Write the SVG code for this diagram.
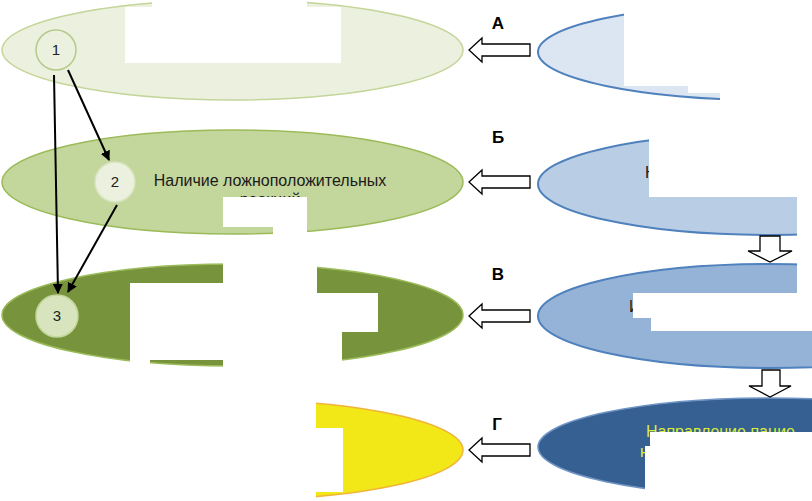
<svg xmlns="http://www.w3.org/2000/svg" width="812" height="501" viewBox="0 0 812 501">
<defs>
<style>
.lbl{font-family:"Liberation Sans",Arial,sans-serif;font-weight:bold;font-size:17px;fill:#000}
.num{font-family:"Liberation Sans",Arial,sans-serif;font-size:15px;fill:#222;text-anchor:middle}
.txt{font-family:"Liberation Sans",Arial,sans-serif;font-size:16px;fill:#1a1a1a}
.ytxt{font-family:"Liberation Sans",Arial,sans-serif;font-size:16px;fill:#dcee3a}
.blk{fill:#fff;stroke:#000;stroke-width:1.3}
.mask{fill:#fff}
.con{stroke:#000;stroke-width:2;fill:none;marker-end:url(#ah)}
</style>
<marker id="ah" viewBox="0 0 10 10" refX="9" refY="5" markerWidth="5" markerHeight="5" orient="auto">
<path d="M0,0 L10,5 L0,10 z" fill="#000"/>
</marker>
</defs>
<rect width="812" height="501" fill="#fff"/>

<!-- left ellipses -->
<g id="left1"><ellipse cx="232.5" cy="50" rx="230.5" ry="50" fill="#ebf1de" stroke="#c4d59a" stroke-width="1.5"/></g>
<g id="left2"><ellipse cx="232.5" cy="182" rx="230.5" ry="52" fill="#c3d69b" stroke="#9bbb59" stroke-width="1.5"/>
<text class="txt" x="270" y="186" text-anchor="middle">Наличие ложноположительных</text>
<text class="txt" x="270" y="205" text-anchor="middle">реакций</text></g>
<g id="left3"><ellipse cx="232.5" cy="315" rx="230.5" ry="51" fill="#77933c" stroke="#9bbb59" stroke-width="1.5"/></g>
<g id="left4"><ellipse cx="232.5" cy="450" rx="230.5" ry="50" fill="#f2e717" stroke="#f0b43a" stroke-width="1.5"/></g>

<!-- right ellipses -->
<g id="rightA"><ellipse cx="770" cy="52" rx="232" ry="48" fill="#dce6f2" stroke="#4f81bd" stroke-width="2"/></g>
<g id="rightB"><ellipse cx="770" cy="184" rx="232" ry="51" fill="#b9cde5" stroke="#4f81bd" stroke-width="2"/>
<text class="txt" x="645" y="178">Н</text></g>
<g id="rightV"><ellipse cx="770" cy="316" rx="232" ry="52" fill="#95b3d7" stroke="#4f81bd" stroke-width="2"/>
<text class="txt" x="629" y="312">И</text></g>
<g id="rightG"><ellipse cx="770" cy="447" rx="232" ry="49" fill="#376092" stroke="#6f95c6" stroke-width="1.5"/>
<text class="ytxt" x="646" y="437">Направление пацие</text>
<text class="ytxt" x="640" y="457">на</text></g>

<!-- redaction masks -->
<g id="masks">
<rect class="mask" x="125" y="7" width="216" height="56"/>
<rect class="mask" x="152" y="0" width="155" height="8"/>
<rect class="mask" x="223" y="197" width="84" height="30"/>
<rect class="mask" x="273" y="197" width="34" height="45"/>
<rect class="mask" x="223" y="240" width="84" height="85"/>
<rect class="mask" x="130" y="283" width="93" height="77"/>
<rect class="mask" x="130" y="355" width="20" height="14"/>
<rect class="mask" x="223" y="250" width="94" height="120"/>
<rect class="mask" x="307" y="293" width="71" height="39"/>
<rect class="mask" x="317" y="330" width="25" height="40"/>
<rect class="mask" x="0" y="395" width="316" height="106"/>
<rect class="mask" x="316" y="428" width="27" height="64"/>
<rect class="mask" x="624" y="0" width="188" height="86"/>
<rect class="mask" x="688" y="80" width="124" height="13"/>
<rect class="mask" x="720" y="80" width="92" height="30"/>
<rect class="mask" x="649" y="110" width="163" height="87"/>
<rect class="mask" x="797" y="190" width="15" height="103"/>
<rect class="mask" x="633" y="293" width="179" height="25"/>
<rect class="mask" x="651" y="316" width="161" height="15"/>
<rect class="mask" x="650" y="432" width="162" height="69"/>
<rect class="mask" x="645" y="446" width="167" height="55"/>
</g>

<!-- numbered circles -->
<g id="n1"><circle cx="56" cy="50" r="20" fill="#ebf1de" stroke="#b5c98a" stroke-width="1.5"/><text class="num" x="56" y="55">1</text></g>
<g id="n2"><circle cx="115" cy="182" r="20" fill="#ebf1de" stroke="#d7e4bd" stroke-width="1.5"/><text class="num" x="115" y="187">2</text></g>
<g id="n3"><circle cx="57" cy="316" r="21" fill="#d7e4bd" stroke="#c3d69b" stroke-width="1.5"/><text class="num" x="57" y="321">3</text></g>

<!-- connectors -->
<g id="connectors">
<line class="con" x1="68" y1="70" x2="109" y2="160"/>
<line class="con" x1="54" y1="75" x2="58" y2="293"/>
<line class="con" x1="117" y1="205" x2="68" y2="292"/>
<polygon class="blk" points="469,50 482,38 482,44 530,44 530,56 482,56 482,62"/>
<polygon class="blk" points="469,182 482,170 482,176 530,176 530,188 482,188 482,194"/>
<polygon class="blk" points="469,316 482,304 482,310 530,310 530,322 482,322 482,328"/>
<polygon class="blk" points="469,450 482,438 482,444 530,444 530,456 482,456 482,462"/>
<polygon class="blk" points="760,236 780,236 780,251 792,251 770,262 748,251 760,251"/>
<polygon class="blk" points="762,370 780,370 780,386 791,386 770,397 749,386 762,386"/>
</g>

<g id="letters">
<text class="lbl" x="498" y="29" text-anchor="middle">А</text>
<text class="lbl" x="498" y="143" text-anchor="middle">Б</text>
<text class="lbl" x="498" y="280" text-anchor="middle">В</text>
<text class="lbl" x="497" y="430" text-anchor="middle">Г</text>
</g>
</svg>
